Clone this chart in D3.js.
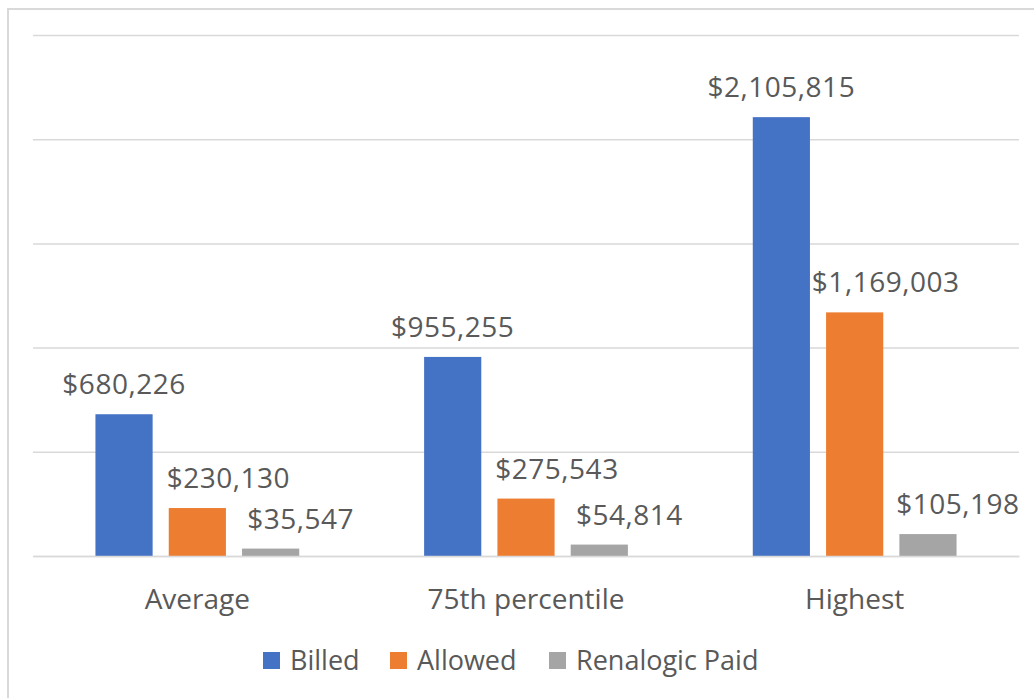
<!DOCTYPE html>
<html>
<head>
<meta charset="utf-8">
<script src="https://d3js.org/d3.v7.min.js"></script>
<style>
  body { margin: 0; background: #fff; }
  text { font-family: "Open Sans", "Noto Sans", sans-serif; fill: #595959; }
</style>
</head>
<body>
<svg id="drawing_region"></svg>
<script>
const categories = ["Average", "75th percentile", "Highest"];
const seriesNames = ["Billed", "Allowed", "Renalogic Paid"];
const billed = [680226, 955255, 2105815];
const allowed = [230130, 275543, 1169003];
const paid = [35547, 54814, 105198];
const yTicks = [0, 500000, 1000000, 1500000, 2000000, 2500000];
const colors = ["#4472c4", "#ed7d31", "#a5a5a5"];
// labels of the 2nd and 3rd series are nudged right, as in the original
const labelShift = [0, 31, 30];

const width = 1034, height = 698;
const margin = {top: 35, right: 15, bottom: 142, left: 33};

const svg = d3.select('#drawing_region')
    .attr('width', width)
    .attr('height', height);

// chart border
svg.append('path')
    .attr('d', `M8,${height} L8,9 L${width},9`)
    .attr('fill', 'none')
    .attr('stroke', '#d9d9d9')
    .attr('stroke-width', 2);

const xscale = d3.scaleBand()
    .domain(categories)
    .range([margin.left, width - margin.right]);

const xinner = d3.scaleBand()
    .domain(seriesNames)
    .range([xscale.bandwidth() * 0.19, xscale.bandwidth() * 0.81])
    .paddingInner(0.22);

const yscale = d3.scaleLinear()
    .domain([0, 2500000])
    .range([height - margin.bottom, margin.top]);

// gridlines
const yaxis = d3.axisLeft(yscale)
    .tickValues(yTicks)
    .tickSize(-(width - margin.left - margin.right))
    .tickFormat('');

svg.append('g')
    .attr('transform', `translate(${margin.left},0)`)
    .call(yaxis)
    .call(g => g.select('.domain').remove())
    .call(g => g.selectAll('.tick line')
        .attr('stroke', '#d9d9d9')
        .attr('stroke-width', 1.5));

const rows = categories.map((c, i) => ({
    cat: c,
    vals: [billed[i], allowed[i], paid[i]]
}));

const fmt = d3.format('$,');

const groups = svg.append('g').selectAll('g')
    .data(rows)
    .join('g')
    .attr('transform', d => `translate(${xscale(d.cat)},0)`);

const cells = d => d.vals.map((v, j) => ({name: seriesNames[j], v: v, j: j}));

groups.selectAll('rect')
    .data(cells)
    .join('rect')
    .attr('x', d => xinner(d.name))
    .attr('width', xinner.bandwidth())
    .attr('y', d => yscale(d.v))
    .attr('height', d => yscale(0) - yscale(d.v))
    .attr('fill', d => colors[d.j]);

groups.selectAll('text')
    .data(cells)
    .join('text')
    .attr('x', d => xinner(d.name) + xinner.bandwidth() / 2 + labelShift[d.j])
    .attr('y', d => yscale(d.v) - 20)
    .attr('text-anchor', 'middle')
    .attr('font-size', 28)
    .attr('letter-spacing', 0.5)
    .text(d => fmt(d.v));

// x axis labels
const xaxis = d3.axisBottom(xscale).tickSize(0).tickPadding(0);
svg.append('g')
    .attr('transform', `translate(0,${yscale(0)})`)
    .call(xaxis)
    .call(g => g.select('.domain')
        .attr('stroke', '#d9d9d9')
        .attr('stroke-width', 1.5))
    .call(g => g.selectAll('.tick text')
        .attr('font-size', 28)
        .attr('font-family', '"Open Sans", sans-serif')
        .attr('fill', '#595959')
        .attr('dy', 0)
        .attr('y', 53));

// legend
const legendX = [263, 390, 549];
const legend = svg.append('g').selectAll('g')
    .data(seriesNames)
    .join('g')
    .attr('transform', (d, i) => `translate(${legendX[i]},652)`);

legend.append('rect')
    .attr('width', 17)
    .attr('height', 17)
    .attr('fill', (d, i) => colors[i]);

legend.append('text')
    .attr('x', 27)
    .attr('y', 18)
    .attr('font-size', 27)
    .text(d => d);
</script>
</body>
</html>
